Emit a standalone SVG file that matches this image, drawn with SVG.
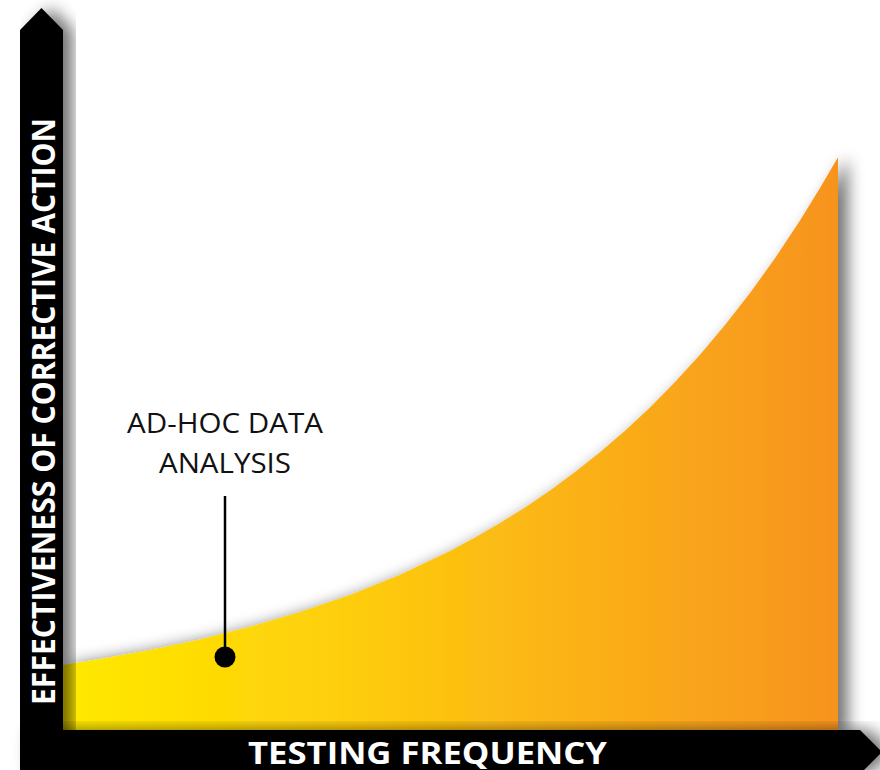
<svg xmlns="http://www.w3.org/2000/svg" width="880" height="770" viewBox="0 0 880 770">
<defs>
<linearGradient id="fillGrad" x1="63" y1="0" x2="838" y2="0" gradientUnits="userSpaceOnUse">
<stop offset="0" stop-color="#FFE900"/>
<stop offset="0.35" stop-color="#FECF0A"/>
<stop offset="0.65" stop-color="#FBB317"/>
<stop offset="1" stop-color="#F7931E"/>
</linearGradient>
<filter id="shadow" x="-20%" y="-20%" width="150%" height="150%">
<feGaussianBlur in="SourceAlpha" stdDeviation="8"/>
<feOffset dx="10" dy="0" result="b"/>
<feComponentTransfer><feFuncA type="linear" slope="0.55"/></feComponentTransfer>
<feMerge><feMergeNode/><feMergeNode in="SourceGraphic"/></feMerge>
</filter>
<style>
.bar{fill:#000}
.axis-label{font-family:"Open Sans","Liberation Sans",sans-serif;font-weight:bold;fill:#fff}
.label{font-family:"Open Sans","Liberation Sans",sans-serif;font-size:28px;fill:#111;text-anchor:middle}
</style>
</defs>
<rect width="880" height="770" fill="#fff"/>
<g id="area">
<path filter="url(#shadow)" fill="url(#fillGrad)" d="M63,665 L100,659.1 L150,650 L200,639.4 L250,626.8 L300,612.1 L350,594.9 L400,574.7 L450,551 L475,537.6 L500,523.1 L525,507.5 L550,490.5 L575,472.1 L600,452.2 L625,430.7 L650,407.4 L675,382.1 L700,354.7 L725,325 L750,292.9 L775,258.2 L800,220.4 L820,188.1 L838,157.2 L838,735 L63,735 Z"/>
</g>
<g id="y-axis">
<polygon class="bar" filter="url(#shadow)" points="20,780 20,30 41.5,8 63,30 63,780"/>
<text class="axis-label" transform="translate(55,411.5) rotate(-90)" text-anchor="middle" font-size="33" textLength="587" lengthAdjust="spacingAndGlyphs">EFFECTIVENESS OF CORRECTIVE ACTION</text>
</g>
<g id="x-axis">
<polygon class="bar" filter="url(#shadow)" points="20,730 860,730 882,752 860,774 20,774"/>
<text class="axis-label" x="427.5" y="764" text-anchor="middle" font-size="31" textLength="359" lengthAdjust="spacingAndGlyphs">TESTING FREQUENCY</text>
</g>
<g id="annotation">
<text class="label" x="225" y="433" textLength="196" lengthAdjust="spacingAndGlyphs">AD-HOC DATA</text>
<text class="label" x="225" y="473" textLength="132" lengthAdjust="spacingAndGlyphs">ANALYSIS</text>
</g>
<g id="connectors">
<line x1="225" y1="496" x2="225" y2="657" stroke="#000" stroke-width="2.5"/>
<circle cx="225" cy="657" r="10.5" fill="#000"/>
</g>
</svg>
